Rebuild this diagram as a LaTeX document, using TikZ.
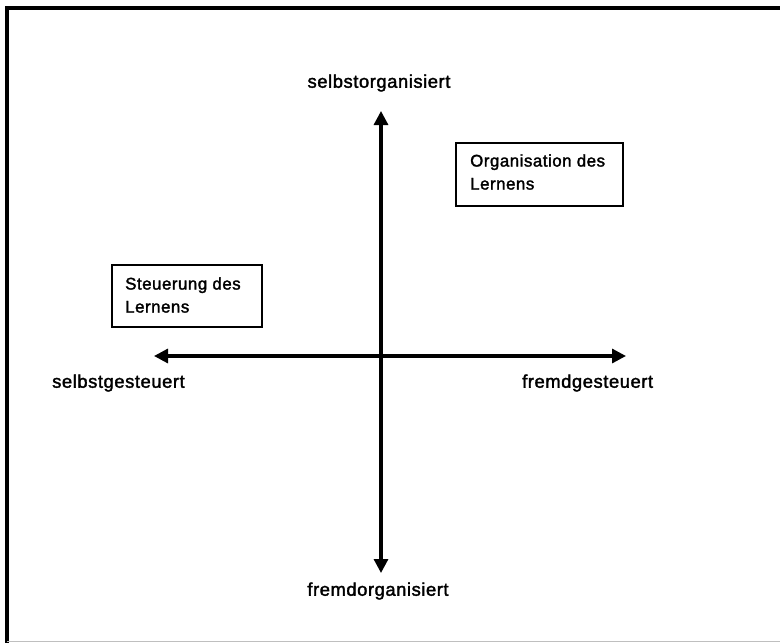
\documentclass[tikz,border=0pt]{standalone}
\usepackage{fontspec}
\setmainfont{Liberation Sans}
\newfontfamily\heavy{Liberation Sans}[FakeBold=1.8, LetterSpace=3]
\usetikzlibrary{arrows.meta}
\begin{document}
\begin{tikzpicture}[x=1pt,y=-1pt,
  axis/.style={line width=3.2pt,{Triangle[length=14pt,width=14pt]}-{Triangle[length=14pt,width=14pt]}},
  lbl/.style={font=\heavy\fontsize{18.4}{20}\selectfont, inner sep=0pt},
  boxtext/.style={anchor=west, inner sep=0pt, align=left, font=\heavy\fontsize{16.9}{23}\selectfont},
  frame/.style={line width=2.8pt}]
  \useasboundingbox (0,0) rectangle (780,643);
  % outer frame (top and left edges, faint bottom edge)
  \draw[line width=4pt] (7,643) -- (7,8) -- (780,8);
  \draw[line width=1pt, black!25] (7,641) -- (780,641);

  % axes
  \coordinate (top) at (381,111);
  \coordinate (bot) at (381,573);
  \coordinate (lft) at (154,356);
  \coordinate (rgt) at (626,356);
  \draw[axis] (bot) -- (top);
  \draw[axis] (lft) -- (rgt);

  % axis labels
  \node[lbl] (so) at (379,83) {selbstorganisiert};
  \node[lbl] (fo) at (378,591) {fremdorganisiert};
  \node[lbl, anchor=west] (sg) at (52,383) {selbstgesteuert};
  \node[lbl, anchor=west] (fg) at (522,383) {fremdgesteuert};

  % quadrant boxes
  \draw[frame] (456,143) rectangle (623,206);
  \node[boxtext] (org) at (470,172) {Organisation des\\Lernens};
  \draw[frame] (112,265) rectangle (262,327);
  \node[boxtext] (steu) at (125,295) {Steuerung des\\Lernens};
\end{tikzpicture}
\end{document}
